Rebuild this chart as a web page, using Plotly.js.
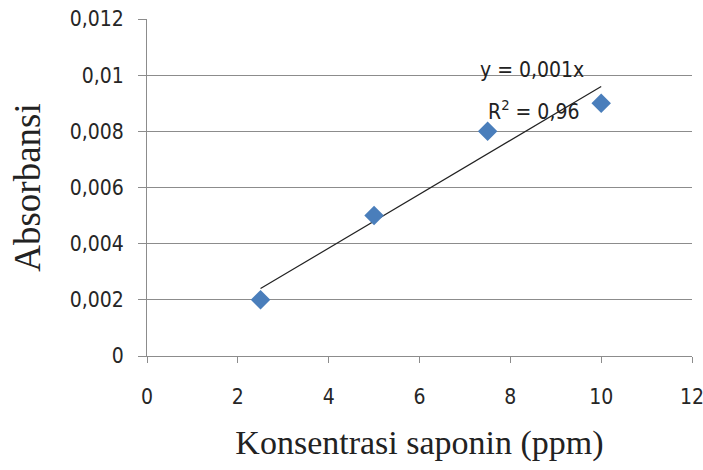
<!DOCTYPE html>
<html>
<head>
<meta charset="utf-8">
<script src="https://cdn.plot.ly/plotly-3.0.1.min.js"></script>
<style>html,body{margin:0;padding:0;background:#fff;}#chart{width:703px;height:470px;}</style>
</head>
<body>
<div id="chart"></div>
<script>
// Data
const concentration = [2.5, 5, 7.5, 10];
const absorbance = [0.002, 0.005, 0.008, 0.009];
const xTickValues = [0, 2, 4, 6, 8, 10, 12];
const yTickValues = [0, 0.002, 0.004, 0.006, 0.008, 0.01, 0.012];
const yTickLabels = ['0', '0,002', '0,004', '0,006', '0,008', '0,01', '0,012'];
const equationText = 'y = 0,001x';
const r2Text = 'R<sup>2</sup> = 0,96';

// Linear trend through origin (least squares)
let sxy = 0, sxx = 0;
for (let i = 0; i < concentration.length; i++) { sxy += concentration[i] * absorbance[i]; sxx += concentration[i] * concentration[i]; }
const slope = sxy / sxx;
const trendX = [concentration[0], concentration[concentration.length - 1]];
const trendY = trendX.map(v => slope * v);

const narrow = '"DejaVu Sans Condensed", "Liberation Sans Narrow", "Arial Narrow", sans-serif';
const serif = '"Liberation Serif", "Times New Roman", serif';

const traces = [
  {x: trendX, y: trendY, type: 'scatter', mode: 'lines', line: {color: '#222', width: 1.2}, hoverinfo: 'skip', showlegend: false},
  {x: concentration, y: absorbance, type: 'scatter', mode: 'markers', marker: {symbol: 'diamond', size: 15, color: '#4a7ebb'}, showlegend: false}
];

const layout = {
  width: 703, height: 470,
  margin: {l: 147, r: 11, t: 19, b: 114},
  paper_bgcolor: '#fff', plot_bgcolor: '#fff',
  showlegend: false,
  xaxis: {
    range: [0, 12], tickvals: xTickValues, ticktext: xTickValues.map(String),
    showgrid: false, zeroline: false, showline: true, linecolor: '#8c8c8c', linewidth: 1,
    ticks: 'outside', ticklen: 6, tickcolor: '#8c8c8c',
    ticklabelstandoff: 16, ticklabeloverflow: 'allow',
    tickfont: {family: narrow, size: 21, color: '#262626'},
    title: {text: 'Konsentrasi saponin (ppm)', font: {family: serif, size: 34, color: '#222'}, standoff: 21}
  },
  yaxis: {
    range: [0, 0.012], tickvals: yTickValues, ticktext: yTickLabels,
    showgrid: true, gridcolor: '#8c8c8c', gridwidth: 1, zeroline: false,
    showline: true, linecolor: '#8c8c8c', linewidth: 1,
    ticks: 'outside', ticklen: 8, tickcolor: '#8c8c8c',
    ticklabelstandoff: 10,
    tickfont: {family: narrow, size: 21, color: '#262626'},
    title: {text: 'Absorbansi', font: {family: serif, size: 37, color: '#222'}, standoff: 17}
  },
  annotations: [
    {xref: 'paper', yref: 'paper', x: (532 - 147) / 545, y: (356 - 70) / 337, text: equationText, showarrow: false, xanchor: 'center', yanchor: 'middle', font: {family: narrow, size: 21, color: '#222'}},
    {xref: 'paper', yref: 'paper', x: (533 - 147) / 545, y: (356 - 110) / 337, text: r2Text, showarrow: false, xanchor: 'center', yanchor: 'middle', font: {family: narrow, size: 21, color: '#222'}}
  ]
};

Plotly.newPlot('chart', traces, layout, {displayModeBar: false, staticPlot: true});
</script>
</body>
</html>
